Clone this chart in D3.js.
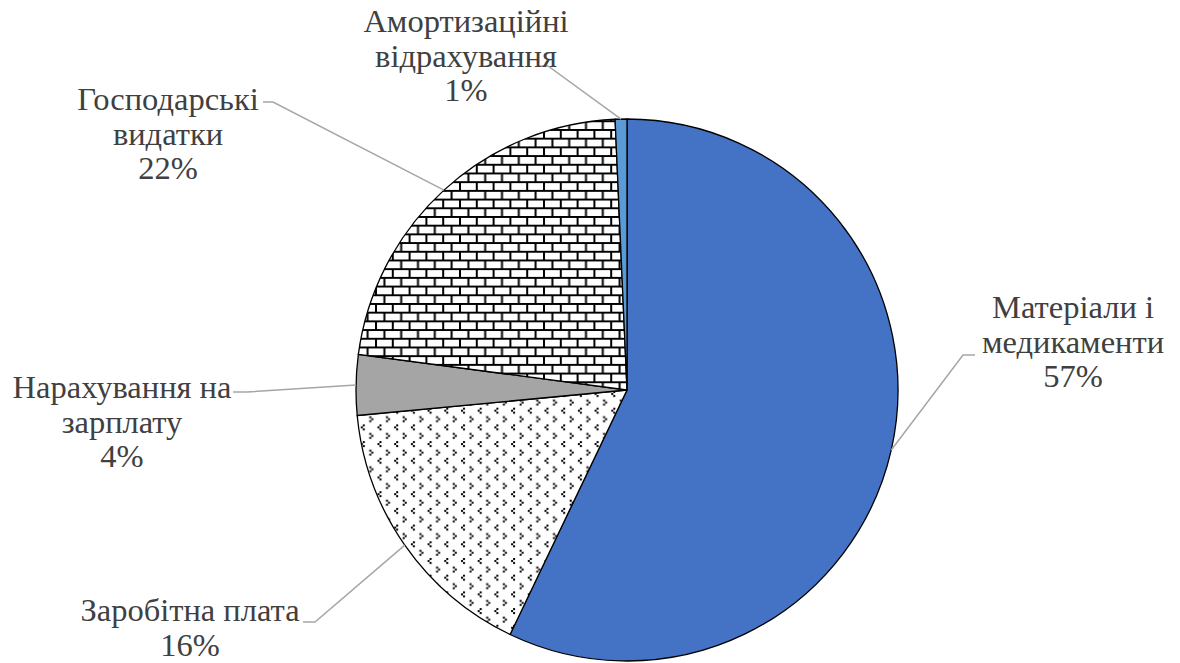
<!DOCTYPE html>
<html>
<head>
<meta charset="utf-8">
<script src="https://cdn.jsdelivr.net/npm/d3@7"></script>
<style>
    body { margin: 0; background: #fff; }
    #chart { width: 1180px; height: 663px; }
    svg text { font-family: 'Times New Roman', 'Liberation Serif', 'Noto Serif', 'DejaVu Serif', serif; }
</style>
</head>
<body>
<div id="chart"></div>
<script>
// data
const categories = ['Матеріали і медикаменти', 'Заробітна плата', 'Нарахування на зарплату', 'Господарські видатки', 'Амортизаційні відрахування'];
const shares = [57.1, 16.4, 3.6, 22.2, 0.7];
const labelLines = [
    ['Матеріали і', 'медикаменти'],
    ['Заробітна плата'],
    ['Нарахування на', 'зарплату'],
    ['Господарські', 'видатки'],
    ['Амортизаційні', 'відрахування'],
];

// layout of data labels: text centre x, first baseline, elbow of the leader line
const labelPos = [
    { x: 1073, y: 318, ex: 963, ey: 355, tx: 975 },
    { x: 190, y: 621, ex: 315, ey: 622, tx: 303 },
    { x: 122, y: 398, ex: 247, ey: 392, tx: 233 },
    { x: 168, y: 110, ex: 273, ey: 102, tx: 263 },
    { x: 466, y: 32, ex: 548, ey: 66, tx: 539 },
];

const width = 1180, height = 663;
const cx = 627, cy = 390, radius = 271;
const lineGap = 34.5;

const svg = d3.select('#chart').append('svg')
    .attr('width', width)
    .attr('height', height);

// fill patterns
const defs = svg.append('defs');

const bw = 16.8, bh = 17.4;
const brick = defs.append('pattern')
    .attr('id', 'brick')
    .attr('patternUnits', 'userSpaceOnUse')
    .attr('width', bw).attr('height', bh);
brick.append('rect').attr('width', bw).attr('height', bh).attr('fill', '#fff');
brick.append('path')
    .attr('d', `M0,1H${bw}M0,${bh / 2 + 1}H${bw}M1,0V${bh / 2}M${bw / 2 + 1},${bh / 2}V${bh}`)
    .attr('stroke', '#000').attr('stroke-width', 2);

const dw = 16.7;
const dots = defs.append('pattern')
    .attr('id', 'dots')
    .attr('patternUnits', 'userSpaceOnUse')
    .attr('width', dw).attr('height', dw);
dots.append('rect').attr('width', dw).attr('height', dw).attr('fill', '#fff');
[[3, 1], [1, 3], [3, 5], [9.5, 9.5], [11.5, 11.5], [9.5, 13.5]].forEach(([x, y]) =>
    dots.append('rect').attr('x', x).attr('y', y).attr('width', 2).attr('height', 2).attr('fill', '#000'));

const fills = ['#4472C4', 'url(#dots)', '#A5A5A5', 'url(#brick)', '#5B9BD5'];

const data = categories.map((c, i) => ({ name: c, value: shares[i], lines: labelLines[i], pos: labelPos[i], fill: fills[i] }));

const pie = d3.pie().sort(null).value((d) => d.value);
const arc = d3.arc().innerRadius(0).outerRadius(radius);
const arcs = pie(data);

const g = svg.append('g').attr('transform', `translate(${cx},${cy})`);

g.selectAll('path.slice')
    .data(arcs)
    .enter()
    .append('path')
    .attr('class', 'slice')
    .attr('d', arc)
    .attr('fill', (d) => d.data.fill)
    .attr('stroke', '#000')
    .attr('stroke-width', 1.3);

// leader lines from slice edge (mid angle) to label
const total = d3.sum(shares);
svg.selectAll('path.leader')
    .data(arcs)
    .enter()
    .append('path')
    .attr('class', 'leader')
    .attr('d', (d) => {
        const a = (d.startAngle + d.endAngle) / 2;
        const px = cx + radius * Math.sin(a);
        const py = cy - radius * Math.cos(a);
        const p = d.data.pos;
        return `M${px},${py}L${p.ex},${p.ey}L${p.tx},${p.ey}`;
    })
    .attr('fill', 'none')
    .attr('stroke', '#A6A6A6')
    .attr('stroke-width', 1.5);

// data labels
const labels = svg.selectAll('text.label')
    .data(arcs)
    .enter()
    .append('text')
    .attr('class', 'label')
    .attr('font-size', 32.5)
    .attr('fill', '#404040')
    .attr('text-anchor', 'middle')
    .attr('x', (d) => d.data.pos.x)
    .attr('y', (d) => d.data.pos.y);

labels.each(function (d) {
    const t = d3.select(this);
    const lines = d.data.lines.concat([d3.format('.0f')((d.data.value / total) * 100) + '%']);
    lines.forEach((l, i) => {
        t.append('tspan')
            .attr('x', d.data.pos.x)
            .attr('dy', i === 0 ? 0 : lineGap)
            .text(l);
    });
});
</script>
</body>
</html>
